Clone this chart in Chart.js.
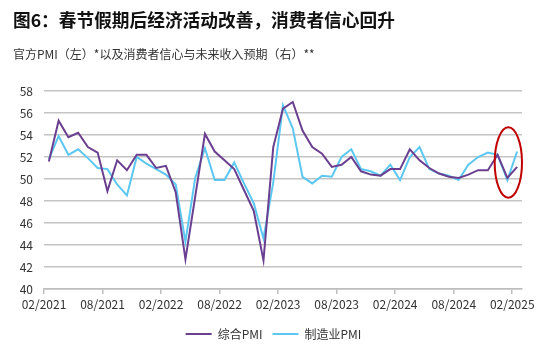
<!DOCTYPE html>
<html lang="zh">
<head>
    <meta charset="UTF-8">
    <title>图6</title>
    <script src="https://cdn.jsdelivr.net/npm/chart.js@4.4.1/dist/chart.umd.min.js"></script>
    <style>
        body { margin: 0; background: #fff; }
        .wrap { position: relative; width: 550px; height: 354px; font-family: "Noto Sans CJK SC", "Noto Sans", sans-serif; }
        .title { position: absolute; left: 13px; top: 10px; font-size: 17.7px; line-height: 18px; font-weight: bold; color: #111; white-space: nowrap; }
        .sub { position: absolute; left: 13px; top: 48px; font-size: 12px; line-height: 12px; color: #333; white-space: nowrap; }
        canvas { position: absolute; left: 0; top: 0; }
    </style>
</head>
<body>
    <div class="wrap">
        <canvas id="pmiChart" width="550" height="354"></canvas>
        <div class="title">图6：春节假期后经济活动改善，消费者信心回升</div>
        <div class="sub">官方PMI（左）*以及消费者信心与未来收入预期（右）**</div>
    </div>

    <script>
        // 月度数据 02/2021 - 02/2025
        const tickLabels = ['02/2021', '08/2021', '02/2022', '08/2022', '02/2023', '08/2023', '02/2024', '08/2024', '02/2025'];
        const compositePMI = [
            51.6, 55.3, 53.8, 54.2, 52.9, 52.4, 48.9, 51.7, 50.8, 52.2, 52.2,
            51.0, 51.2, 48.8, 42.7, 48.4, 54.1, 52.5, 51.7, 50.9, 49.0, 47.1, 42.6,
            52.9, 56.4, 57.0, 54.4, 52.9, 52.3, 51.1, 51.3, 52.0, 50.7, 50.4, 50.3,
            50.9, 50.9, 52.7, 51.7, 51.0, 50.5, 50.2, 50.1, 50.4, 50.8, 50.8, 52.2,
            50.1, 51.1
        ];
        const manufacturingPMI = [
            51.8, 53.9, 52.2, 52.7, 51.9, 51.0, 50.9, 49.5, 48.5, 52.0, 51.4,
            50.9, 50.4, 49.5, 44.3, 50.1, 52.8, 49.9, 49.9, 51.5, 49.6, 47.8, 44.6,
            49.7, 56.7, 54.6, 50.2, 49.6, 50.3, 50.2, 52.0, 52.7, 50.9, 50.7, 50.3,
            51.3, 49.9, 52.0, 52.9, 50.9, 50.5, 50.3, 49.9, 51.3, 52.0, 52.4, 52.2,
            49.9, 52.5
        ];
        // 红圈标注范围（数据单位）
        const highlightX = [46.2, 49.0];
        const highlightY = [48.3, 54.7];

        const font = '"Noto Sans CJK SC", "Noto Sans", sans-serif';
        const toPoints = arr => arr.map((v, i) => ({ x: i + 0.5, y: v }));

        const ellipsePlugin = {
            id: 'ellipse',
            afterLayout(chart) {
                // 图例稍微右移
                if (chart.legend) chart.legend.left += 25;
            },
            afterDatasetsDraw(chart) {
                const { ctx, scales: { x, y } } = chart;
                const x1 = x.getPixelForValue(highlightX[0]), x2 = x.getPixelForValue(highlightX[1]);
                const y1 = y.getPixelForValue(highlightY[1]), y2 = y.getPixelForValue(highlightY[0]);
                ctx.save();
                ctx.beginPath();
                ctx.ellipse((x1 + x2) / 2, (y1 + y2) / 2, (x2 - x1) / 2, (y2 - y1) / 2, 0, 0, Math.PI * 2);
                ctx.strokeStyle = '#c00000';
                ctx.lineWidth = 2;
                ctx.stroke();
                ctx.restore();
            }
        };

        new Chart(document.getElementById('pmiChart'), {
            type: 'line',
            data: {
                datasets: [
                    { label: '综合PMI', data: toPoints(compositePMI), borderColor: '#6b3f8f', backgroundColor: '#6b3f8f', borderWidth: 2, pointRadius: 0, tension: 0 },
                    { label: '制造业PMI', data: toPoints(manufacturingPMI), borderColor: '#5cc8f2', backgroundColor: '#5cc8f2', borderWidth: 2, pointRadius: 0, tension: 0 }
                ]
            },
            options: {
                responsive: false,
                animation: false,
                layout: { padding: { top: 91, right: 28, left: 0, bottom: 4 } },
                plugins: {
                    legend: {
                        position: 'bottom',
                        labels: { usePointStyle: true, pointStyle: 'line', pointStyleWidth: 26, color: '#333', font: { size: 12, family: font }, padding: 10 }
                    },
                    tooltip: { enabled: false }
                },
                scales: {
                    x: {
                        type: 'linear', min: 0, max: 49,
                        afterFit(s) { s.height = 29; },
                        ticks: { stepSize: 6, includeBounds: false, autoSkip: false, maxRotation: 0, padding: 3, color: '#333', font: { size: 12, family: font },
                            callback: v => tickLabels[v / 6] },
                        grid: { drawOnChartArea: false, tickLength: 5, color: '#bdbdbd', lineWidth: 1.5 },
                        border: { color: '#bdbdbd', width: 1.5 }
                    },
                    y: {
                        min: 40, max: 58,
                        afterFit(s) { s.width = 44; },
                        ticks: { stepSize: 2, padding: 11, color: '#333', font: { size: 12, family: font } },
                        grid: { drawTicks: false, color: '#c4c4c4', lineWidth: 1.5 },
                        border: { display: false }
                    }
                }
            },
            plugins: [ellipsePlugin]
        });
    </script>
</body>
</html>
